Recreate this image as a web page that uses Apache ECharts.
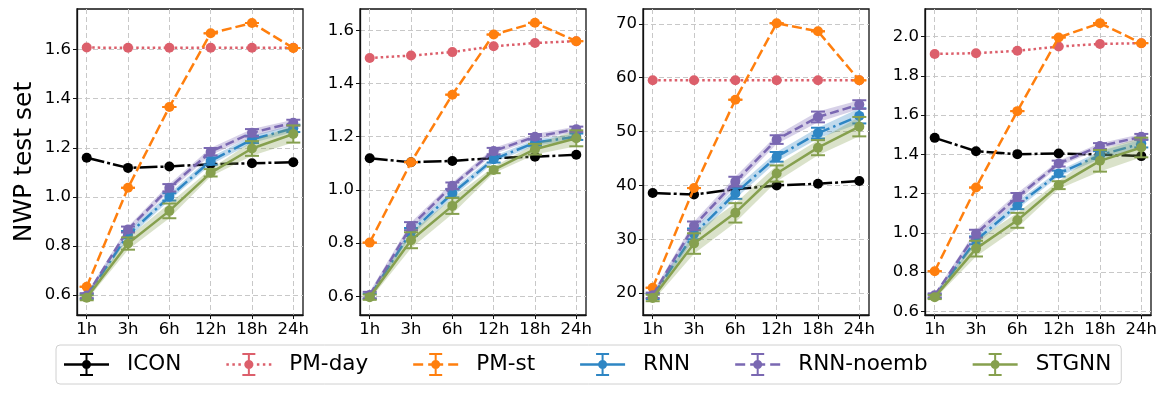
<!DOCTYPE html>
<html><head><meta charset="utf-8">
<script src="https://cdn.jsdelivr.net/npm/echarts@6/dist/echarts.min.js"></script>
<style>html,body{margin:0;padding:0;background:#fff}#c{width:1172px;height:398px}</style>
</head><body><div id="c"></div>
<script>
// ---------- data ----------
const categories = ['1h', '3h', '6h', '12h', '18h', '24h'];
const seriesNames = ['ICON', 'PM-day', 'PM-st', 'RNN', 'RNN-noemb', 'STGNN'];
const yTicks1 = [0.6, 0.8, 1.0, 1.2, 1.4, 1.6];
const yTicks2 = [0.6, 0.8, 1.0, 1.2, 1.4, 1.6];
const yTicks3 = [20, 30, 40, 50, 60, 70];
const yTicks4 = [0.6, 0.8, 1.0, 1.2, 1.4, 1.6, 1.8, 2.0];
const yRange1 = [0.519, 1.765];
const yRange2 = [0.530, 1.680];
const yRange3 = [15.94, 72.74];
const yRange4 = [0.582, 2.140];

// panel 1
const icon1 = [1.159, 1.118, 1.124, 1.133, 1.137, 1.141];
const pmday1 = [1.608, 1.607, 1.607, 1.607, 1.607, 1.607];
const pmst1 = [0.634, 1.037, 1.366, 1.666, 1.708, 1.606];
const rnn1 = [0.594, 0.846, 1.000, 1.146, 1.234, 1.279];
const rnnNoemb1 = [0.598, 0.867, 1.037, 1.184, 1.261, 1.302];
const stgnn1 = [0.589, 0.810, 0.943, 1.098, 1.197, 1.256];
const rnnStd1 = [0.010, 0.015, 0.015, 0.015, 0.015, 0.015];
const rnnNoembStd1 = [0.010, 0.012, 0.015, 0.015, 0.015, 0.012];
const stgnnStd1 = [0.010, 0.025, 0.030, 0.015, 0.030, 0.035];

// panel 2
const icon2 = [1.119, 1.104, 1.109, 1.120, 1.125, 1.132];
const pmday2 = [1.496, 1.505, 1.518, 1.540, 1.552, 1.559];
const pmst2 = [0.802, 1.104, 1.358, 1.584, 1.628, 1.559];
const rnn2 = [0.600, 0.842, 0.987, 1.115, 1.178, 1.200];
const rnnNoemb2 = [0.605, 0.864, 1.016, 1.146, 1.200, 1.228];
const stgnn2 = [0.597, 0.811, 0.940, 1.075, 1.153, 1.194];
const rnnStd2 = [0.010, 0.015, 0.015, 0.012, 0.012, 0.012];
const rnnNoembStd2 = [0.012, 0.015, 0.012, 0.012, 0.010, 0.010];
const stgnnStd2 = [0.010, 0.030, 0.030, 0.012, 0.020, 0.030];

// panel 3
const icon3 = [38.6, 38.3, 39.3, 40.0, 40.3, 40.8];
const pmday3 = [59.5, 59.5, 59.5, 59.5, 59.5, 59.5];
const pmst3 = [21.0, 39.5, 55.9, 70.1, 68.6, 59.5];
const rnn3 = [19.4, 31.0, 38.5, 45.3, 49.7, 52.9];
const rnnNoemb3 = [19.6, 32.5, 40.7, 48.5, 52.7, 55.0];
const stgnn3 = [19.1, 29.2, 34.9, 42.2, 47.0, 50.9];
const rnnStd3 = [0.5, 1.0, 1.0, 0.9, 1.0, 1.4];
const rnnNoembStd3 = [0.5, 0.8, 0.9, 0.8, 1.0, 0.8];
const stgnnStd3 = [0.6, 1.9, 1.8, 1.5, 1.4, 1.8];

// panel 4
const icon4 = [1.484, 1.416, 1.401, 1.404, 1.399, 1.391];
const pmday4 = [1.911, 1.915, 1.927, 1.949, 1.962, 1.966];
const pmst4 = [0.805, 1.231, 1.620, 1.995, 2.068, 1.966];
const rnn4 = [0.677, 0.962, 1.141, 1.302, 1.396, 1.455];
const rnnNoemb4 = [0.682, 0.996, 1.183, 1.353, 1.442, 1.489];
const stgnn4 = [0.673, 0.920, 1.064, 1.243, 1.367, 1.435];
const rnnStd4 = [0.010, 0.020, 0.020, 0.015, 0.020, 0.020];
const rnnNoembStd4 = [0.010, 0.020, 0.020, 0.015, 0.015, 0.015];
const stgnnStd4 = [0.010, 0.040, 0.038, 0.020, 0.055, 0.050];

// ---------- styling ----------
const colors = {'ICON': '#000000', 'PM-day': '#dc5f6b', 'PM-st': '#ff7f0e', 'RNN': '#2e86c4', 'RNN-noemb': '#7a68b2', 'STGNN': '#86a04e'};
const dashes = {'ICON': [18, 3, 3, 3], 'PM-day': [2.5, 3], 'PM-st': [10, 4], 'RNN': [13, 4, 2.5, 4], 'RNN-noemb': [9, 4], 'STGNN': 'solid'};
const FONT = 'DejaVu Sans';

const zeros = [0, 0, 0, 0, 0, 0];
const panels = [
  {range: yRange1, ticks: yTicks1, dec: 1, s: {'ICON': [icon1, null], 'PM-day': [pmday1, null], 'PM-st': [pmst1, zeros], 'RNN': [rnn1, rnnStd1], 'RNN-noemb': [rnnNoemb1, rnnNoembStd1], 'STGNN': [stgnn1, stgnnStd1]}},
  {range: yRange2, ticks: yTicks2, dec: 1, s: {'ICON': [icon2, null], 'PM-day': [pmday2, null], 'PM-st': [pmst2, zeros], 'RNN': [rnn2, rnnStd2], 'RNN-noemb': [rnnNoemb2, rnnNoembStd2], 'STGNN': [stgnn2, stgnnStd2]}},
  {range: yRange3, ticks: yTicks3, dec: 0, s: {'ICON': [icon3, null], 'PM-day': [pmday3, null], 'PM-st': [pmst3, zeros], 'RNN': [rnn3, rnnStd3], 'RNN-noemb': [rnnNoemb3, rnnNoembStd3], 'STGNN': [stgnn3, stgnnStd3]}},
  {range: yRange4, ticks: yTicks4, dec: 1, s: {'ICON': [icon4, null], 'PM-day': [pmday4, null], 'PM-st': [pmst4, zeros], 'RNN': [rnn4, rnnStd4], 'RNN-noemb': [rnnNoemb4, rnnNoembStd4], 'STGNN': [stgnn4, stgnnStd4]}}
];
const gridLefts = [77, 360, 643, 925];

function hexA(hex, a) {
  const n = parseInt(hex.slice(1), 16);
  return 'rgba(' + ((n >> 16) & 255) + ',' + ((n >> 8) & 255) + ',' + (n & 255) + ',' + a + ')';
}

const grids = [], xAxes = [], yAxes = [], series = [];
panels.forEach((p, pi) => {
  grids.push({left: gridLefts[pi], top: 9, width: 226, height: 306, show: true, borderColor: '#111', borderWidth: 1.3, backgroundColor: 'transparent'});
  xAxes.push({
    type: 'value', gridIndex: pi, min: -0.235, max: 5.235, splitNumber: 5,
    axisLine: {show: true, onZero: false, lineStyle: {color: '#111', width: 1.3}},
    axisTick: {show: true, length: 4, lineStyle: {color: '#111'}, customValues: [0, 1, 2, 3, 4, 5]},
    axisLabel: {show: true, margin: 6, color: '#000', fontFamily: FONT, fontSize: 16.5,
      customValues: [0, 1, 2, 3, 4, 5],
      formatter: v => { const r = Math.round(v); return Math.abs(v - r) < 1e-6 && r >= 0 && r < categories.length ? categories[r] : ''; }},
    splitLine: {show: true, lineStyle: {color: '#c8c8c8', type: [5, 3], width: 1}}
  });
  const step = p.ticks[1] - p.ticks[0];
  yAxes.push({
    type: 'value', gridIndex: pi, min: p.range[0], max: p.range[1], splitNumber: pi === 3 ? 7 : 6,
    name: pi === 0 ? 'NWP test set' : '', nameLocation: 'middle', nameGap: 40,
    nameTextStyle: {fontFamily: FONT, fontSize: 25, color: '#000'},
    axisLine: {show: true, onZero: false, lineStyle: {color: '#111', width: 1.3}},
    axisTick: {show: true, length: 4, lineStyle: {color: '#111'}, customValues: p.ticks},
    axisLabel: {show: true, margin: 6, color: '#000', fontFamily: FONT, fontSize: 16.5,
      customValues: p.ticks,
      formatter: v => { const k = v / step; return Math.abs(k - Math.round(k)) < 1e-6 ? v.toFixed(p.dec) : ''; }},
    splitLine: {show: true, lineStyle: {color: '#c8c8c8', type: [5, 3], width: 1}}
  });

  seriesNames.forEach((name, k) => {
    const mean = p.s[name][0], std = p.s[name][1];
    const col = colors[name];
    const z = 3 + k;
    series.push({
      type: 'line', name: name, xAxisIndex: pi, yAxisIndex: pi, z: z, silent: true, animation: false,
      data: mean.map((m, i) => [i, m]),
      symbol: 'circle', symbolSize: 10, showSymbol: true, clip: false,
      lineStyle: {color: col, width: 2.5, type: dashes[name], cap: 'butt'},
      itemStyle: {color: col, borderWidth: 0}
    });
    if (std) {
      series.push({
        type: 'custom', name: name, xAxisIndex: pi, yAxisIndex: pi, z: z, silent: true, animation: false,
        data: mean.map((m, i) => [i, m, std[i]]), encode: {x: 0, y: 1},
        itemStyle: {color: col},
        renderItem: (params, api) => {
          const i = api.value(0), m = api.value(1), s = api.value(2);
          const t = api.coord([i, m + s]), b = api.coord([i, m - s]);
          const hw = 7;
          const st = {stroke: col, lineWidth: 2};
          return {type: 'group', children: [
            {type: 'line', shape: {x1: t[0], y1: t[1], x2: b[0], y2: b[1]}, style: st},
            {type: 'line', shape: {x1: t[0] - hw, y1: t[1], x2: t[0] + hw, y2: t[1]}, style: st},
            {type: 'line', shape: {x1: b[0] - hw, y1: b[1], x2: b[0] + hw, y2: b[1]}, style: st}
          ]};
        }
      });
      if (name !== 'PM-st') {
        series.push({
          type: 'custom', name: name, xAxisIndex: pi, yAxisIndex: pi, z: z, silent: true, animation: false,
          data: [[0, mean[0]]], encode: {x: 0, y: 1},
          itemStyle: {color: col},
          renderItem: (params, api) => {
            const up = mean.map((m, i) => api.coord([i, m + std[i]]));
            const dn = mean.map((m, i) => api.coord([i, m - std[i]])).reverse();
            return {type: 'polygon', shape: {points: up.concat(dn)}, style: {fill: hexA(col, 0.3)}};
          }
        });
      }
    }
  });
});

// legend icons (errorbar glyph) 45 x 23
function rect(x0, y0, x1, y1) { return 'M' + x0 + ' ' + y0 + 'L' + x1 + ' ' + y0 + 'L' + x1 + ' ' + y1 + 'L' + x0 + ' ' + y1 + 'Z'; }
function iconPath(segs) {
  let d = segs.map(s => rect(s[0], 10.3, s[1], 12.7)).join('');
  d += rect(21.5, 0, 23.5, 23) + rect(16, 0, 29, 2) + rect(16, 21, 29, 23);
  d += 'M18 11.5a4.5 4.5 0 1 1 9 0a4.5 4.5 0 1 1 -9 0Z';
  return 'path://' + d;
}
const segSolid = [[0, 45]];
const segDash = [[0, 10], [15, 30], [35, 45]];
const segDot = [[0, 2.5], [6, 8.5], [12, 14.5], [18, 27], [30.5, 33], [36.5, 39], [42.5, 45]];
const legendSegs = {'ICON': segSolid, 'PM-day': segDot, 'PM-st': segDash, 'RNN': segSolid, 'RNN-noemb': segDash, 'STGNN': segSolid};

const option = {
  animation: false,
  backgroundColor: '#fff',
  grid: grids, xAxis: xAxes, yAxis: yAxes, series: series,
  legend: {
    left: 56, top: 345, orient: 'horizontal',
    padding: [7, 10, 7, 8], itemGap: 45, itemWidth: 45, itemHeight: 23,
    borderColor: '#d0d0d0', borderWidth: 1, borderRadius: 4, backgroundColor: '#fff',
    selectedMode: false,
    textStyle: {fontFamily: FONT, fontSize: 21.5, color: '#000', lineHeight: 25, padding: [0, 0, 0, 13]},
    data: seriesNames.map(n => ({name: n, icon: iconPath(legendSegs[n]), itemStyle: {color: colors[n], borderWidth: 0}}))
  }
};
const chart = echarts.init(document.getElementById('c'), null, {renderer: 'canvas'});
chart.setOption(option);
</script></body></html>
